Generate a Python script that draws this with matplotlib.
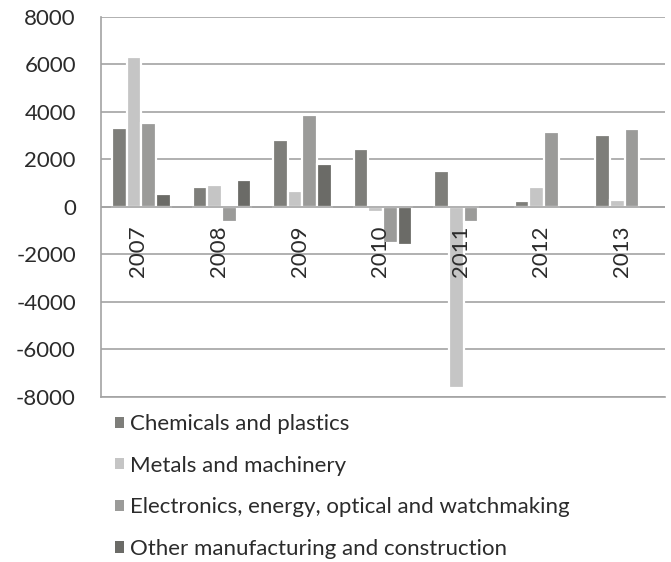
import matplotlib.pyplot as plt
from matplotlib.patches import Patch
import numpy as np

plt.rcParams['font.family'] = ['Lato', 'DejaVu Sans']

years = ['2007', '2008', '2009', '2010', '2011', '2012', '2013']
series = ['Chemicals and plastics',
          'Metals and machinery',
          'Electronics, energy, optical and watchmaking',
          'Other manufacturing and construction']
chemicals = [3330, 860, 2800, 2440, 1530, 270, 3020]
metals = [6300, 940, 660, -220, -7620, 830, 300]
electronics = [3550, -650, 3890, -1500, -640, 3150, 3290]
other = [560, 1150, 1810, -1580, np.nan, np.nan, np.nan]
colors = ['#7e7e7a', '#c5c5c5', '#9b9b99', '#6b6b67']
grid_col = '#a3a3a3'
text_col = '#2b2b2b'

fig = plt.figure(figsize=(6.71, 5.62), dpi=100)
ax = fig.add_axes([0.1505, 0.2936, 0.8405, 0.6762])

x = np.arange(len(years))
w = 0.182
for k, (vals, col) in enumerate(zip([chemicals, metals, electronics, other], colors)):
    ax.bar(x + (k - 1.5) * w, vals, width=w, color=col, edgecolor='white',
           linewidth=1.6, zorder=3)

ax.set_xlim(-0.5, len(years) - 0.5)
ax.set_ylim(-8000, 8000)
ax.set_yticks(np.arange(-8000, 8001, 2000))
ax.set_yticklabels([str(v) for v in range(-8000, 8001, 2000)])
ax.tick_params(axis='y', length=0, pad=18, labelsize=16, labelcolor=text_col)
ax.set_xticks([])
ax.yaxis.grid(True, color=grid_col, linewidth=1.2, zorder=0)
ax.set_axisbelow(True)
# zero line runs across the bar bases
ax.axhline(0, color=grid_col, linewidth=1.2, zorder=4)

for s in ['top', 'right']:
    ax.spines[s].set_visible(False)
for s in ['left', 'bottom']:
    ax.spines[s].set_color(grid_col)
    ax.spines[s].set_linewidth(1.2)

# year labels hang just under the zero line, over the bars
for i, yr in enumerate(years):
    ax.annotate(yr, (i, 0), xytext=(-2.0, -13), textcoords='offset points',
                rotation=90, ha='center', va='top', fontsize=16, color=text_col,
                zorder=5)

handles = [Patch(facecolor=c, edgecolor='none') for c in colors]
fig.legend(handles, series, loc='upper left', bbox_to_anchor=(0.171, 0.263),
           frameon=False, fontsize=16, handlelength=0.4, handleheight=0.4,
           handletextpad=0.3, labelspacing=0.97, labelcolor=text_col,
           borderaxespad=0, borderpad=0)

fig.savefig('out.png', dpi=100)
